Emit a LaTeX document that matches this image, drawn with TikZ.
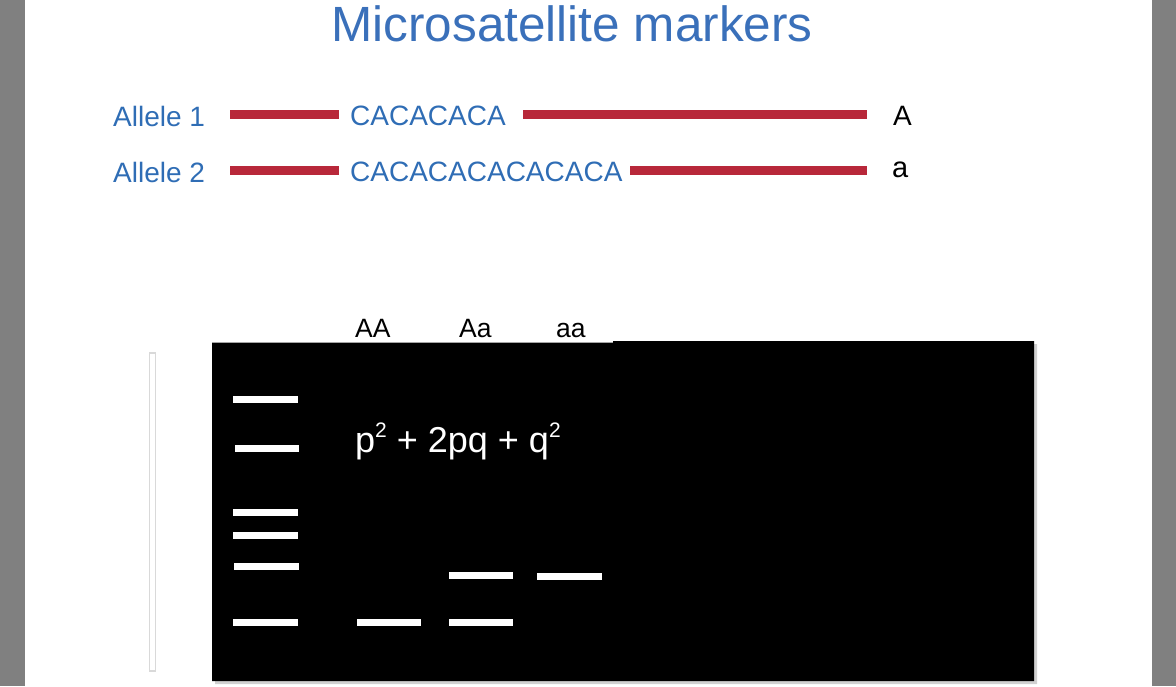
\documentclass[tikz,border=0pt]{standalone}
\usepackage{fontspec}
\setmainfont{Liberation Sans}
\definecolor{titleblue}{HTML}{3A70BA}
\definecolor{alleleblue}{HTML}{2F6DB5}
\definecolor{genered}{HTML}{B8283A}
\definecolor{framegray}{HTML}{808080}
\newcommand{\fs}[1]{\fontsize{#1}{#1}\selectfont}
\newcommand{\supr}[1]{\raisebox{0.40em}{\fs{21}#1}}
\begin{document}
\begin{tikzpicture}[x=1pt,y=-1pt,
  txt/.style={inner sep=0pt, anchor=base west},
  geneline/.style={line width=9pt, color=genered},
  band/.style={fill=white, draw=none},
]
\useasboundingbox (0,0) rectangle (1176,686);
% side frame
\fill[framegray] (0,0) rectangle (25,686);
\fill[framegray] (1152,0) rectangle (1176,686);

% title
\node[inner sep=0pt, anchor=base, text=titleblue] (title) at (572,41) {\fs{49.5}Microsatellite markers};

% alleles
\node[txt, text=alleleblue] (al1) at (113,126) {\fs{28}Allele 1};
\node[txt, text=alleleblue] (al2) at (113,182) {\fs{28}Allele 2};
\node[txt, text=alleleblue] (rep1) at (350,125) {\fs{28}CACACACA};
\node[txt, text=alleleblue] (rep2) at (350,181) {\fs{28}CACACACACACACA};
\node[txt] (bigA) at (893,125) {\fs{28}A};
\node[txt] (smalla) at (892,177) {\fs{29}a};

\coordinate (g1a) at (230,114);
\coordinate (g1b) at (339,114);
\coordinate (g1c) at (523,114);
\coordinate (g1d) at (867,114);
\coordinate (g2a) at (230,170);
\coordinate (g2b) at (339,170);
\coordinate (g2c) at (630,170);
\coordinate (g2d) at (867,170);
\draw[geneline] (g1a) -- (g1b);
\draw[geneline] (g1c) -- (g1d);
\draw[geneline] (g2a) -- (g2b);
\draw[geneline] (g2c) -- (g2d);

% vertical strip
\filldraw[fill=white, draw=black!15, line width=1.2pt] (149.5,353) rectangle (155.5,671);

% gel
\fill[black!18] (215,345) -- (1037,344) -- (1037,684) -- (215,684) -- cycle;
\fill[black] (212,342.5) -- (613,342.5) -- (613,341) -- (1034,341) -- (1034,681) -- (212,681) -- cycle;

% lane labels
\node[txt] (lAA) at (355,337) {\fs{26.5}AA};
\node[txt] (lAa) at (459,337) {\fs{26.5}Aa};
\node[txt] (laa) at (556,337) {\fs{26.5}aa};

% formula
\node[txt, text=white] (hw) at (355,452) {\fs{36}p\supr{2} + 2pq + q\supr{2}};

% ladder bands
\fill[band] (233,396) rectangle (298,403);
\fill[band] (235,445) rectangle (299,452);
\fill[band] (233,508.5) rectangle (298,515.5);
\fill[band] (233,532) rectangle (298,539);
\fill[band] (234,563) rectangle (299,570);
\fill[band] (233,619) rectangle (298,626);
% sample bands
\fill[band] (357,619) rectangle (421,626);
\fill[band] (449,572) rectangle (513,579);
\fill[band] (449,619) rectangle (513,626);
\fill[band] (537,573) rectangle (602,580);
\end{tikzpicture}
\end{document}
